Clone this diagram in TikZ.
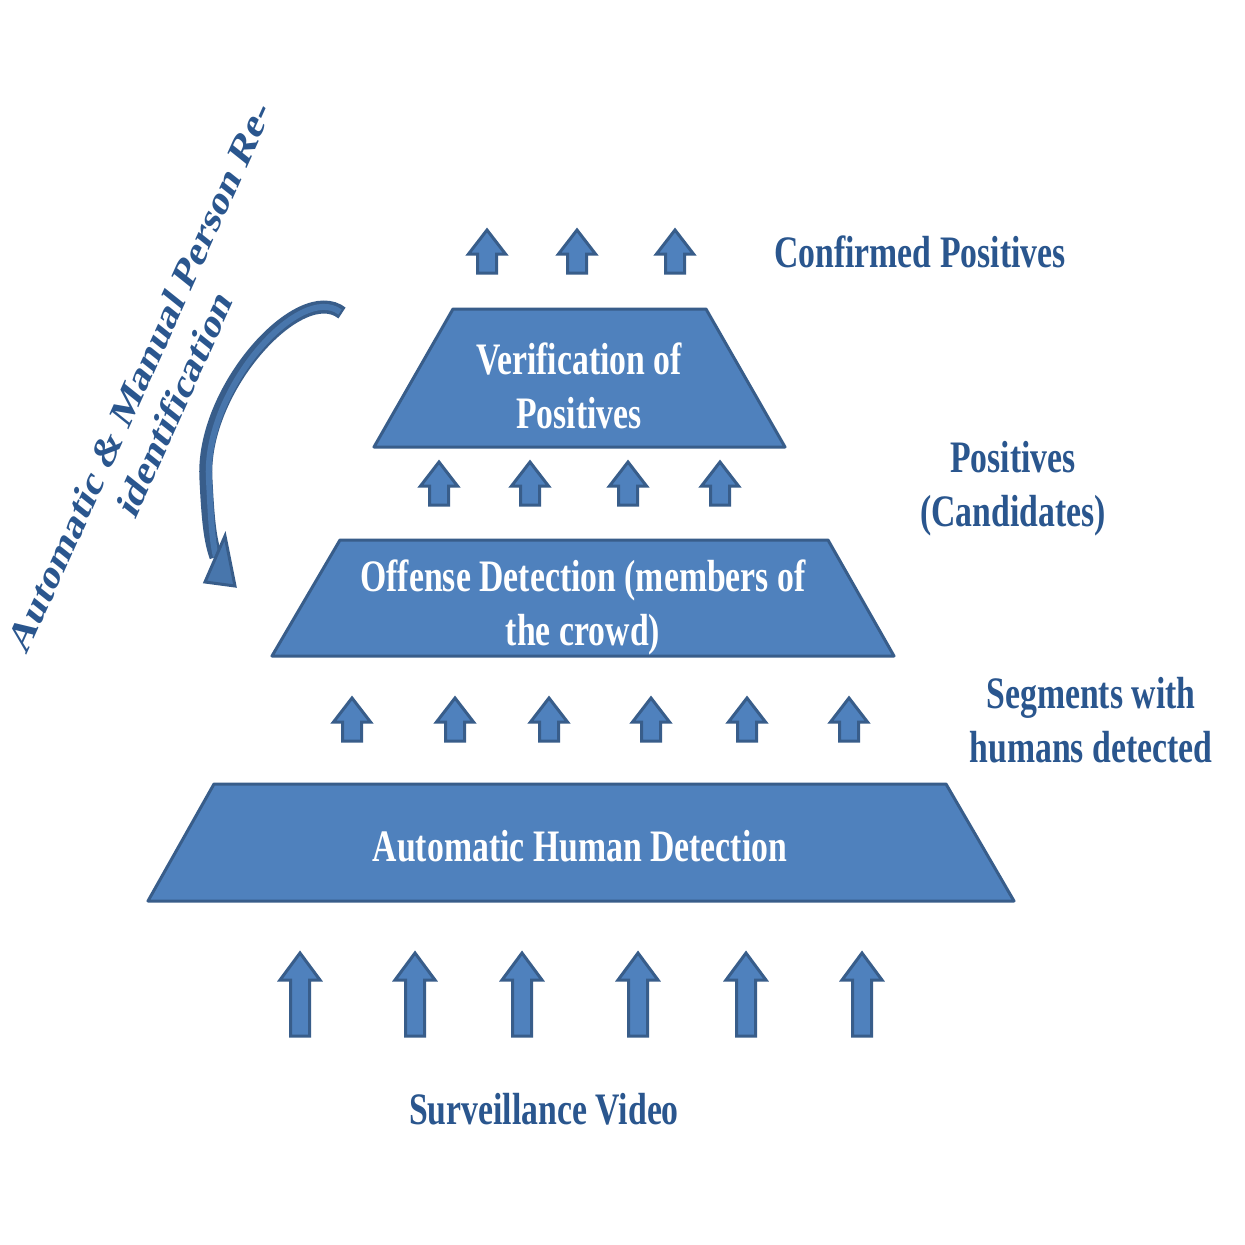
\documentclass[tikz,border=0pt]{standalone}
\usepackage{fontspec}
\usepackage{graphicx}
\setmainfont{Liberation Serif}
\definecolor{boxfill}{RGB}{79,129,189}
\definecolor{boxline}{RGB}{56,93,138}
\definecolor{labeltext}{RGB}{42,86,142}
\definecolor{curvein}{RGB}{72,118,172}
\newcommand{\sq}[1]{\scalebox{0.75}[1]{\begin{tabular}{@{}c@{}}#1\end{tabular}}}
\newcommand{\blockarr}[6]{% x, ytip, ybottom, headw, headh, shaftw
  \draw[arrowshape] ({#1-#6/2},{#3}) -- ({#1-#6/2},{#2+#5}) -- ({#1-#4/2},{#2+#5})
    -- ({#1},{#2}) -- ({#1+#4/2},{#2+#5}) -- ({#1+#6/2},{#2+#5}) -- ({#1+#6/2},{#3}) -- cycle;}
\tikzset{
  tier/.style={fill=boxfill, draw=boxline, line width=3pt, line join=round},
  arrowshape/.style={fill=boxfill, draw=boxline, line width=3pt, line join=miter},
  intext/.style={text=white, font=\fontsize{45}{54}\selectfont\bfseries, inner sep=0pt},
  outtext/.style={text=labeltext, font=\fontsize{45}{54}\selectfont\bfseries, inner sep=0pt},
}
\begin{document}
\begin{tikzpicture}[x=1pt,y=-1pt]
\useasboundingbox[fill=white] (0,0) rectangle (1245,1245);

% tiers
\draw[tier] (453,309) -- (706,309) -- (785,447) -- (374,447) -- cycle;
\draw[tier] (340,540) -- (828,540) -- (894,656) -- (272,656) -- cycle;
\draw[tier] (214,784) -- (946,784) -- (1014,901) -- (148,901) -- cycle;

\node[intext] (verif) at (579,391) {\sq{Verification of\\Positives}};
\node[intext] (offense) at (583,608) {\sq{Offense Detection (members of\\the crowd)}};
\node[intext] (human) at (580,851) {\sq{Automatic Human Detection}};

% arrows above top tier
\foreach \x in {487,577,675} {\blockarr{\x}{230}{273}{37}{24}{19}}
% arrows between top and middle
\foreach \x in {439,530,628,720} {\blockarr{\x}{462}{505}{37}{24}{19}}
% arrows between middle and bottom
\foreach \x in {352,455,549,651,747,849} {\blockarr{\x}{698}{741}{37}{24}{19}}
% big input arrows
\foreach \x in {300,415,522,638,746,862} {\blockarr{\x}{953}{1036}{40}{27}{19}}

% labels
\node[outtext] (confirmed) at (920,257) {\sq{Confirmed Positives}};
\node[outtext] (candidates) at (1013,489) {\sq{Positives\\(Candidates)}};
\node[outtext] (segments) at (1091,725) {\sq{Segments with\\humans detected}};
\node[outtext] (video) at (544,1114) {\sq{Surveillance Video}};

% rotated label
\node[outtext] (reid) at (160,392) {\scalebox{0.75}[1]{\rotatebox{59}{\begin{tabular}{@{}c@{}}Automatic \& Manual Person Re-\\identification\end{tabular}}}};

% curved arrow
\coordinate (cstart) at (342,313);
\coordinate (cend) at (216,557);
\draw[boxline, line width=13pt] (cstart) .. controls (300,280) and (200,390) .. (206,480) .. controls (208,520) and (210,540) .. (cend);
\draw[curvein, line width=6pt] (cstart) ++(-2,-1) .. controls (300,282) and (203,390) .. (209,480) .. controls (211,520) and (212,540) .. (cend);
\draw[fill=curvein, draw=boxline, line width=3pt, line join=miter] (225,536) -- (235,586) -- (205,582) -- cycle;
\end{tikzpicture}
\end{document}
